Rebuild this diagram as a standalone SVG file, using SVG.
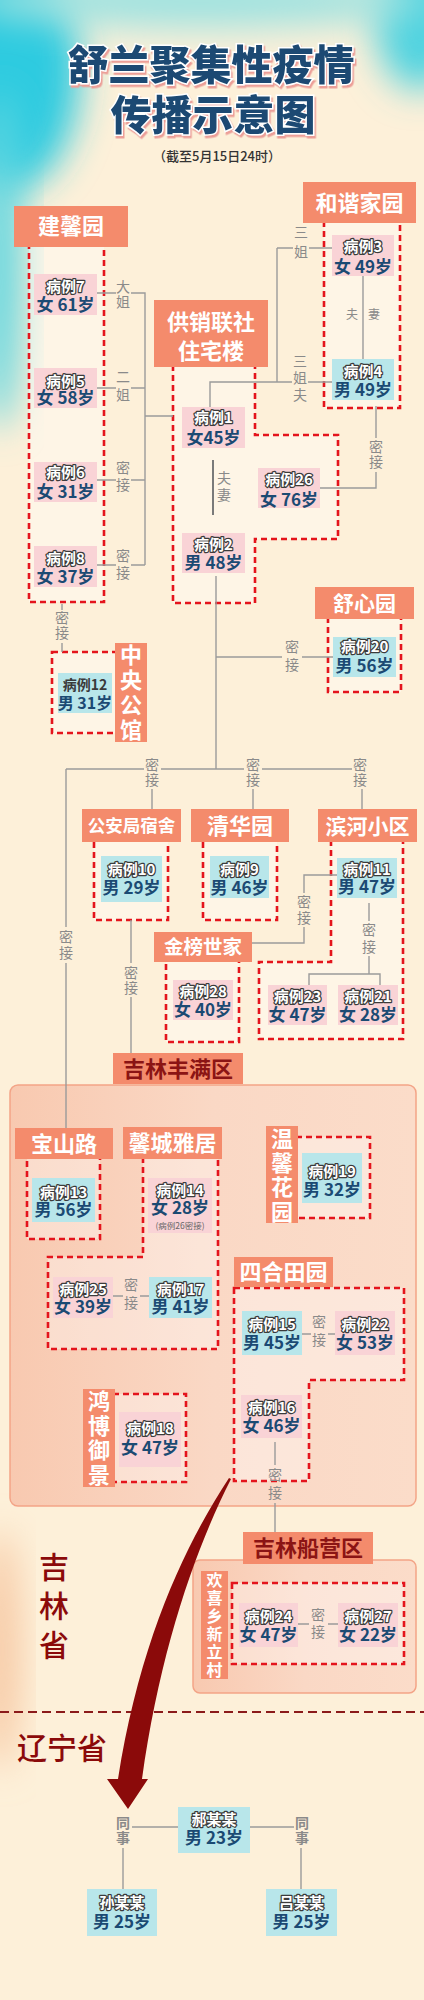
<svg xmlns="http://www.w3.org/2000/svg" width="424" height="2000" viewBox="0 0 424 2000">
<defs>
<filter id="blur" x="-50%" y="-50%" width="200%" height="200%"><feGaussianBlur stdDeviation="18"/></filter>
<filter id="ts" x="-10%" y="-10%" width="120%" height="130%"><feDropShadow dx="1.5" dy="2.5" stdDeviation="0" flood-color="#ec9f98"/></filter>
<linearGradient id="reg" x1="0" y1="0" x2="1" y2="0"><stop offset="0" stop-color="#f8c9b0"/><stop offset="0.5" stop-color="#fad8c5"/><stop offset="1" stop-color="#fbdcc9"/></linearGradient>
<style>
.hdr{fill:#f48b6c}
.ht{font-family:"Noto Sans CJK SC",sans-serif;font-weight:700;font-size:22px;fill:#fff;text-anchor:middle}
.dk{fill:#8b1414}
.pk{fill:#f9d3d6}
.bl{fill:#b8e6ea}
.cs{font-family:"Noto Sans CJK SC",sans-serif;font-weight:700;text-anchor:middle}
.cid{font-size:15px;fill:#fff;stroke:#3b3b3b;stroke-width:2.4px;stroke-linejoin:round;paint-order:stroke}
.age{font-size:17px;fill:#1b4a73;stroke:none}
.dash{fill:#ffffff;fill-opacity:0.35;stroke:#e4141c;stroke-width:2.6;stroke-dasharray:6 4}
.ln{stroke:#9b9b9b;stroke-width:1.4;fill:none}
.lb{font-family:"Noto Sans CJK SC",sans-serif;font-size:14px;fill:#8a8a8a;text-anchor:middle}
.v{writing-mode:vertical-rl;text-anchor:middle}
.vt{font-family:"Noto Sans CJK SC",sans-serif;font-weight:700;font-size:22px;fill:#fff;text-anchor:middle;writing-mode:vertical-rl}
</style>
</defs>
<rect width="424" height="2000" fill="#fdf0d9"/>
<g id="background">
<ellipse cx="10" cy="70" rx="70" ry="120" fill="#2fcbe0" filter="url(#blur)"/>
<ellipse cx="0" cy="260" rx="22" ry="170" fill="#5fd6e0" filter="url(#blur)"/>
<ellipse cx="420" cy="20" rx="45" ry="70" fill="#4fd3e0" filter="url(#blur)"/>
<ellipse cx="200" cy="0" rx="230" ry="28" fill="#9fe2e0" filter="url(#blur)"/>
<ellipse cx="0" cy="1650" rx="18" ry="120" fill="#f6c49e" filter="url(#blur)"/>
</g>
<g id="title">
<text x="211" y="80" font-family="Noto Sans CJK SC,sans-serif" font-weight="900" font-size="41" fill="#1b4a73" stroke="#fff" stroke-width="3" paint-order="stroke" text-anchor="middle" filter="url(#ts)">舒兰聚集性疫情</text>
<text x="213" y="130" font-family="Noto Sans CJK SC,sans-serif" font-weight="900" font-size="41" fill="#1b4a73" stroke="#fff" stroke-width="3" paint-order="stroke" text-anchor="middle" filter="url(#ts)">传播示意图</text>
<text x="217" y="161" font-family="Noto Sans CJK SC,sans-serif" font-weight="500" font-size="13" fill="#333" text-anchor="middle">（截至5月15日24时）</text>
</g>
<g id="regions">
<rect x="10" y="1085" width="406" height="421" rx="8" fill="url(#reg)" stroke="#f3a487" stroke-width="1.5"/>
<rect x="193" y="1560" width="223" height="133" rx="7" fill="url(#reg)" stroke="#f3a487" stroke-width="1.5"/>
</g>
<g id="clusters">
<rect class="dash" x="29" y="245" width="75" height="357"/>
<rect class="dash" x="324" y="221" width="76" height="187"/>
<polygon class="dash" points="173,365 173,603 255,603 255,539 338,539 338,435 255,435 255,365"/>
<rect class="dash" x="328" y="617" width="73" height="75"/>
<rect class="dash" x="52" y="652" width="65" height="81"/>
<rect class="dash" x="94" y="840" width="74" height="80"/>
<rect class="dash" x="203" y="840" width="74" height="80"/>
<polygon class="dash" points="331,840 331,962 259,962 259,1039 403,1039 403,840"/>
<rect class="dash" x="166" y="960" width="73" height="82"/>
<rect class="dash" x="27" y="1157" width="73" height="82"/>
<polygon class="dash" points="143,1157 143,1257 48,1257 48,1349 218,1349 218,1157"/>
<rect class="dash" x="296" y="1137" width="74" height="81"/>
<polygon class="dash" points="234,1288 404,1288 404,1380 309,1380 309,1481 234,1481"/>
<rect class="dash" x="113" y="1394" width="73" height="88"/>
<rect class="dash" x="232" y="1583" width="172" height="81"/>
</g>
<g id="connectors">
<path class="ln" d="M97,293H116M131,293H145V565M97,388H116M131,388H145M97,480H116M131,480H145M97,565H116M131,565H145M145,416H173"/>
<path class="ln" d="M277,248H293M309,248H332M277,248V382M210,407V382H292M308,382H332"/>
<path class="ln" d="M363,276V359"/>
<path class="ln" d="M376,406V438M376,472V488H320"/>
<path d="M213,460V515" stroke="#7a7a7a" stroke-width="2" fill="none"/>
<path class="ln" d="M62,604V610M62,643V652"/>
<path class="ln" d="M216,576V769M216,657H282M302,657H333"/>
<path class="ln" d="M66,769H144M161,769H244M262,769H352M152,789V809M253,789V809M362,789V809"/>
<path class="ln" d="M66,769V927M66,963V1128"/>
<path class="ln" d="M131,920V963M131,997V1053"/>
<path class="ln" d="M337,875H304V893M304,927V943H252"/>
<path class="ln" d="M369,903V921M369,956V974M309,985V974H380V985"/>
<path class="ln" d="M113,1296H123M140,1296H149"/>
<path class="ln" d="M302,1334H311M328,1334H335"/>
<path class="ln" d="M275,1442V1465M275,1503V1532"/>
<path class="ln" d="M298,1624H309M328,1624H338"/>
<path class="ln" d="M178,1827H132M123,1848V1889M250,1827H294M301,1848V1889"/>
</g>
<g id="labels">
<text class="lb v" x="123" y="295" letter-spacing="1">大姐</text>
<text class="lb v" x="123" y="388" letter-spacing="4">二姐</text>
<text class="lb v" x="123" y="478" letter-spacing="3">密接</text>
<text class="lb v" x="123" y="566" letter-spacing="3">密接</text>
<text class="lb v" x="301" y="245" letter-spacing="6">三姐</text>
<text class="lb v" x="300" y="379" letter-spacing="3">三姐夫</text>
<text class="lb" x="352" y="319" style="font-size:12px">夫</text><text class="lb" x="374" y="319" style="font-size:12px">妻</text>
<text class="lb v" x="376" y="455" letter-spacing="1">密接</text>
<text class="lb v" x="224" y="488" letter-spacing="3">夫妻</text>
<text class="lb v" x="62" y="626" letter-spacing="1">密接</text>
<text class="lb v" x="292" y="658" letter-spacing="4">密接</text>
<text class="lb v" x="152" y="773" letter-spacing="1">密接</text>
<text class="lb v" x="253" y="773" letter-spacing="1">密接</text>
<text class="lb v" x="360" y="773" letter-spacing="1">密接</text>
<text class="lb v" x="66" y="946" letter-spacing="2">密接</text>
<text class="lb v" x="131" y="981" letter-spacing="1">密接</text>
<text class="lb v" x="304" y="911" letter-spacing="2">密接</text>
<text class="lb v" x="369" y="940" letter-spacing="3">密接</text>
<text class="lb v" x="131" y="1296" letter-spacing="4">密接</text>
<text class="lb v" x="319" y="1333" letter-spacing="4">密接</text>
<text class="lb v" x="275" y="1486" letter-spacing="4">密接</text>
<text class="lb v" x="318" y="1625" letter-spacing="3">密接</text>
<text class="lb v" x="123" y="1831" letter-spacing="1" style="font-weight:700">同事</text>
<text class="lb v" x="302" y="1831" letter-spacing="1" style="font-weight:700">同事</text>
</g>
<g id="h-jianxinyuan"><rect class="hdr" x="14" y="206" width="114" height="41"/><text class="ht" x="71" y="234">建馨园</text></g>
<g id="h-hexiejiayuan"><rect class="hdr" x="303" y="182" width="113" height="41"/><text class="ht" x="359.5" y="211">和谐家园</text></g>
<g id="h-gongxiao"><rect class="hdr" x="154" y="300" width="114" height="67"/><text class="ht" x="211" y="330"><tspan x="211" y="330">供销联社</tspan><tspan x="211" y="359">住宅楼</tspan></text></g>
<g id="h-shuxinyuan"><rect class="hdr" x="315" y="587" width="99" height="32"/><text class="ht" x="364.5" y="611" style="font-size:21px">舒心园</text></g>
<g id="h-zhongyang"><rect class="hdr" x="115" y="643" width="32" height="99"/><text class="vt" x="131" y="694" letter-spacing="3">中央公馆</text></g>
<g id="h-gonganju"><rect class="hdr" x="82" y="809" width="99" height="33"/><text class="ht" x="131.5" y="832" style="font-size:17.5px">公安局宿舍</text></g>
<g id="h-qinghuayuan"><rect class="hdr" x="191" y="809" width="98" height="33"/><text class="ht" x="240" y="834">清华园</text></g>
<g id="h-binhe"><rect class="hdr" x="318" y="809" width="99" height="33"/><text class="ht" x="367.5" y="834" style="font-size:21px">滨河小区</text></g>
<g id="h-jinbang"><rect class="hdr" x="154" y="932" width="98" height="30"/><text class="ht" x="203" y="954" style="font-size:19.5px">金榜世家</text></g>
<g id="h-fengman"><rect class="hdr" x="113" y="1053" width="130" height="31"/><text class="ht dk" x="178" y="1077">吉林丰满区</text></g>
<g id="h-baoshan"><rect class="hdr" x="15" y="1128" width="98" height="31"/><text class="ht" x="64" y="1152">宝山路</text></g>
<g id="h-xincheng"><rect class="hdr" x="123" y="1127" width="99" height="32"/><text class="ht" x="172.5" y="1151">馨城雅居</text></g>
<g id="h-wenxin"><rect class="hdr" x="266" y="1126" width="32" height="97"/><text class="vt" x="282" y="1176" letter-spacing="2.3">温馨花园</text></g>
<g id="h-sihe"><rect class="hdr" x="234" y="1257" width="99" height="30"/><text class="ht" x="283.5" y="1280">四合田园</text></g>
<g id="h-hongbo"><rect class="hdr" x="83" y="1389" width="32" height="98"/><text class="vt" x="99" y="1439" letter-spacing="2.5">鸿博御景</text></g>
<g id="h-chuanying"><rect class="hdr" x="243" y="1532" width="130" height="32"/><text class="ht dk" x="308" y="1556">吉林船营区</text></g>
<g id="h-huanxi"><rect class="hdr" x="201" y="1571" width="27" height="108"/><text class="vt" x="214.5" y="1626" style="font-size:16px" letter-spacing="2">欢喜乡新立村</text></g>
<g id="c7"><rect class="pk" x="34" y="274" width="63" height="41"/><text class="cs"><tspan class="cid" x="65.5" y="292">病例7</tspan><tspan class="age" x="65.5" y="311">女 61岁</tspan></text></g>
<g id="c5"><rect class="pk" x="34" y="368" width="63" height="40"/><text class="cs"><tspan class="cid" x="65.5" y="387">病例5</tspan><tspan class="age" x="65.5" y="404">女 58岁</tspan></text></g>
<g id="c6"><rect class="pk" x="34" y="462" width="63" height="40"/><text class="cs"><tspan class="cid" x="65.5" y="478">病例6</tspan><tspan class="age" x="65.5" y="498">女 31岁</tspan></text></g>
<g id="c8"><rect class="pk" x="34" y="546" width="63" height="41"/><text class="cs"><tspan class="cid" x="65.5" y="564">病例8</tspan><tspan class="age" x="65.5" y="583">女 37岁</tspan></text></g>
<g id="c12"><rect class="bl" x="58" y="673" width="54" height="40"/><text class="cs"><tspan x="85" y="690" style="font-size:14px;fill:#3a3a3a">病例12</tspan><tspan class="age" x="85" y="709" style="font-size:16px">男 31岁</tspan></text></g>
<g id="c1"><rect class="pk" x="182" y="407" width="63" height="41"/><text class="cs"><tspan class="cid" x="213.5" y="423">病例1</tspan><tspan class="age" x="213.5" y="444">女45岁</tspan></text></g>
<g id="c26"><rect class="pk" x="258" y="468" width="62" height="40"/><text class="cs"><tspan class="cid" x="289" y="485">病例26</tspan><tspan class="age" x="289" y="506">女 76岁</tspan></text></g>
<g id="c2"><rect class="pk" x="182" y="533" width="63" height="40"/><text class="cs"><tspan class="cid" x="213.5" y="550">病例2</tspan><tspan class="age" x="213.5" y="569">男 48岁</tspan></text></g>
<g id="c3"><rect class="pk" x="332" y="235" width="62" height="41"/><text class="cs"><tspan class="cid" x="363" y="252">病例3</tspan><tspan class="age" x="363" y="273">女 49岁</tspan></text></g>
<g id="c4"><rect class="bl" x="332" y="359" width="62" height="41"/><text class="cs"><tspan class="cid" x="363" y="377">病例4</tspan><tspan class="age" x="363" y="396">男 49岁</tspan></text></g>
<g id="c20"><rect class="bl" x="333" y="637" width="63" height="40"/><text class="cs"><tspan class="cid" x="364.5" y="652">病例20</tspan><tspan class="age" x="364.5" y="672">男 56岁</tspan></text></g>
<g id="c10"><rect class="bl" x="101" y="856" width="61" height="46"/><text class="cs"><tspan class="cid" x="131.5" y="875">病例10</tspan><tspan class="age" x="131.5" y="894">男 29岁</tspan></text></g>
<g id="c9"><rect class="bl" x="210" y="856" width="59" height="42"/><text class="cs"><tspan class="cid" x="239.5" y="875">病例9</tspan><tspan class="age" x="239.5" y="894">男 46岁</tspan></text></g>
<g id="c11"><rect class="bl" x="337" y="858" width="60" height="40"/><text class="cs"><tspan class="cid" x="367" y="875">病例11</tspan><tspan class="age" x="367" y="893">男 47岁</tspan></text></g>
<g id="c28"><rect class="pk" x="173" y="980" width="60" height="40"/><text class="cs"><tspan class="cid" x="203" y="997">病例28</tspan><tspan class="age" x="203" y="1016">女 40岁</tspan></text></g>
<g id="c23"><rect class="pk" x="268" y="985" width="59" height="40"/><text class="cs"><tspan class="cid" x="297.5" y="1002">病例23</tspan><tspan class="age" x="297.5" y="1021">女 47岁</tspan></text></g>
<g id="c21"><rect class="pk" x="338" y="985" width="60" height="40"/><text class="cs"><tspan class="cid" x="368" y="1002">病例21</tspan><tspan class="age" x="368" y="1021">女 28岁</tspan></text></g>
<g id="c13"><rect class="bl" x="32" y="1178" width="63" height="44"/><text class="cs"><tspan class="cid" x="63.5" y="1198">病例13</tspan><tspan class="age" x="63.5" y="1216">男 56岁</tspan></text></g>
<g id="c14"><rect class="pk" x="148" y="1178" width="64" height="55"/><text class="cs"><tspan class="cid" x="180" y="1196">病例14</tspan><tspan class="age" x="180" y="1214">女 28岁</tspan><tspan x="180" y="1229" style="font-size:8.5px;font-weight:400;fill:#666">(病例26密接)</tspan></text></g>
<g id="c25"><rect class="pk" x="53" y="1277" width="60" height="41"/><text class="cs"><tspan class="cid" x="83" y="1295">病例25</tspan><tspan class="age" x="83" y="1313">女 39岁</tspan></text></g>
<g id="c17"><rect class="bl" x="149" y="1277" width="63" height="41"/><text class="cs"><tspan class="cid" x="180.5" y="1295">病例17</tspan><tspan class="age" x="180.5" y="1313">男 41岁</tspan></text></g>
<g id="c19"><rect class="bl" x="302" y="1153" width="60" height="50"/><text class="cs"><tspan class="cid" x="332" y="1177">病例19</tspan><tspan class="age" x="332" y="1196">男 32岁</tspan></text></g>
<g id="c15"><rect class="bl" x="242" y="1311" width="60" height="44"/><text class="cs"><tspan class="cid" x="272" y="1330">病例15</tspan><tspan class="age" x="272" y="1349">男 45岁</tspan></text></g>
<g id="c22"><rect class="pk" x="335" y="1311" width="60" height="44"/><text class="cs"><tspan class="cid" x="365" y="1330">病例22</tspan><tspan class="age" x="365" y="1349">女 53岁</tspan></text></g>
<g id="c16"><rect class="pk" x="241" y="1395" width="61" height="43"/><text class="cs"><tspan class="cid" x="271.5" y="1413">病例16</tspan><tspan class="age" x="271.5" y="1432">女 46岁</tspan></text></g>
<g id="c18"><rect class="pk" x="119" y="1412" width="62" height="55"/><text class="cs"><tspan class="cid" x="150" y="1434">病例18</tspan><tspan class="age" x="150" y="1454">女 47岁</tspan></text></g>
<g id="c24"><rect class="pk" x="239" y="1603" width="59" height="44"/><text class="cs"><tspan class="cid" x="268.5" y="1622">病例24</tspan><tspan class="age" x="268.5" y="1641">女 47岁</tspan></text></g>
<g id="c27"><rect class="pk" x="338" y="1603" width="60" height="44"/><text class="cs"><tspan class="cid" x="368" y="1622">病例27</tspan><tspan class="age" x="368" y="1641">女 22岁</tspan></text></g>
<g id="province">
<text x="54" y="1610" font-family="Noto Sans CJK SC,sans-serif" font-weight="500" font-size="30" fill="#8b0a0a" text-anchor="middle" writing-mode="vertical-rl" letter-spacing="9">吉林省</text>
<line x1="0" y1="1712" x2="424" y2="1712" stroke="#8b1a1a" stroke-width="1.8" stroke-dasharray="9 5"/>
<text x="62" y="1759" font-family="Noto Sans CJK SC,sans-serif" font-weight="500" font-size="30" fill="#8b0a0a" text-anchor="middle">辽宁省</text>
<path d="M229,1478 C185,1545 140,1640 118,1779 L107,1779 L128,1809 L148,1779 L142,1779 C160,1650 195,1550 231,1479 Z" fill="#8b0a0a"/>
</g>
<g id="hao"><rect class="bl" x="178" y="1807" width="72" height="46"/><text class="cs"><tspan class="cid" x="214" y="1825">郝某某</tspan><tspan class="age" x="214" y="1844">男 23岁</tspan></text></g>
<g id="sun"><rect class="bl" x="87" y="1889" width="70" height="47"/><text class="cs"><tspan class="cid" x="122" y="1908">孙某某</tspan><tspan class="age" x="122" y="1928">男 25岁</tspan></text></g>
<g id="lv"><rect class="bl" x="266" y="1889" width="71" height="47"/><text class="cs"><tspan class="cid" x="301.5" y="1908">吕某某</tspan><tspan class="age" x="301.5" y="1928">男 25岁</tspan></text></g>
</svg>
